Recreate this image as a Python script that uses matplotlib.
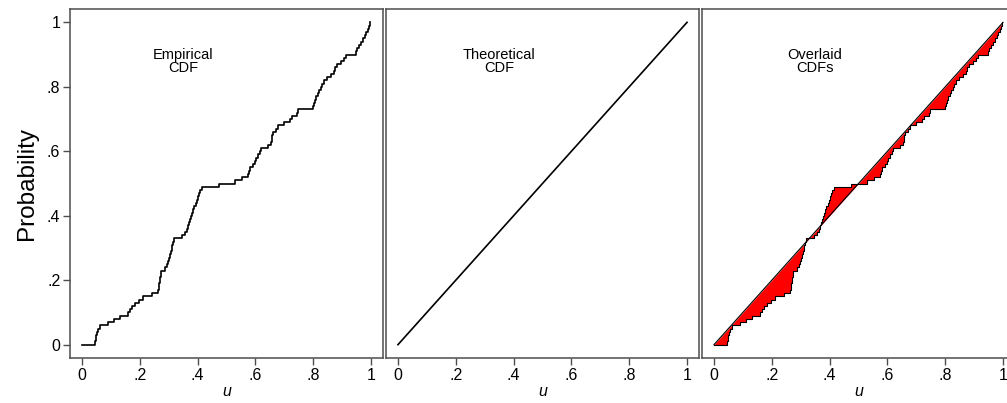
import numpy as np
import matplotlib
matplotlib.use("Agg")
import matplotlib.pyplot as plt

plt.rcParams['font.family'] = ['Liberation Sans', 'DejaVu Sans']

# sorted sample values (n = 100)
u_sample = [0.044, 0.047, 0.050, 0.053, 0.057, 0.062, 0.090, 0.110, 0.132,
            0.158, 0.165, 0.172, 0.185, 0.198, 0.211, 0.243,
            0.262, 0.265, 0.268, 0.270, 0.271, 0.273, 0.275, 0.288,
            0.293, 0.297, 0.300, 0.304, 0.307, 0.310, 0.313, 0.316, 0.320,
            0.346, 0.358, 0.365, 0.368, 0.371, 0.374, 0.377,
            0.381, 0.385, 0.389, 0.393, 0.397, 0.400, 0.405, 0.410, 0.416,
            0.475, 0.528, 0.552, 0.575, 0.578, 0.582,
            0.590, 0.597, 0.603, 0.610, 0.616, 0.620,
            0.645, 0.655, 0.657, 0.659, 0.661, 0.672, 0.678, 0.700,
            0.718, 0.726, 0.743, 0.749,
            0.800, 0.803, 0.807, 0.811, 0.815, 0.820, 0.826, 0.832, 0.838,
            0.848, 0.860, 0.872, 0.877, 0.882, 0.895, 0.905, 0.912,
            0.947, 0.952, 0.958, 0.966, 0.972, 0.978,
            0.984, 0.988, 0.992, 0.996]

ticks = [0, 0.2, 0.4, 0.6, 0.8, 1.0]
tick_labels = ["0", ".2", ".4", ".6", ".8", "1"]
titles = ["Empirical\nCDF", "Theoretical\nCDF", "Overlaid\nCDFs"]

n = len(u_sample)
xs = np.concatenate([[0.0], u_sample])
Fs = np.concatenate([[0.0], np.arange(1, n + 1) / n])

# step vertices for the fill
sx = np.repeat(xs, 2)[1:]
sy = np.repeat(Fs, 2)[:-1]

W, H = 1007, 403
fig = plt.figure(figsize=(W / 100, H / 100), dpi=100)

frame_col = "#4d4d4d"
pad = 0.0414
lefts = [70, 386, 702]
axes = []
for i, lpx in enumerate(lefts):
    ax = fig.add_axes([lpx / W, (H - 358) / H, 313 / W, 349 / H])
    ax.set_xlim(-pad, 1 + pad)
    ax.set_ylim(-pad, 1 + pad)
    for s in ax.spines.values():
        s.set_color(frame_col)
        s.set_linewidth(1.1)
    ax.set_xticks(ticks)
    ax.set_xticklabels(tick_labels)
    ax.tick_params(axis='both', direction='out', length=5, width=1.0,
                   color=frame_col, labelsize=11.5, pad=2)
    if i == 0:
        ax.set_yticks(ticks)
        ax.set_yticklabels(tick_labels)
        ax.set_ylabel("Probability", fontsize=17.5, labelpad=6)
    else:
        ax.set_yticks([])
    ax.set_xlabel("u", fontsize=11.5, style='italic', labelpad=1)
    ax.text(0.35, 0.92, titles[i], ha='center', va='top', fontsize=10.5,
            linespacing=0.9)
    axes.append(ax)

ax1, ax2, ax3 = axes
ax1.step(xs, Fs, where='post', color='black', lw=1.2)

ax2.plot([0, 1], [0, 1], color='black', lw=1.2)

ax3.fill_between(sx, sy, sx, color='#ff0000', interpolate=True, lw=0)
ax3.step(xs, Fs, where='post', color='black', lw=0.8)
ax3.plot([0, 1], [0, 1], color='black', lw=0.8)

fig.savefig("out.png", dpi=100)
